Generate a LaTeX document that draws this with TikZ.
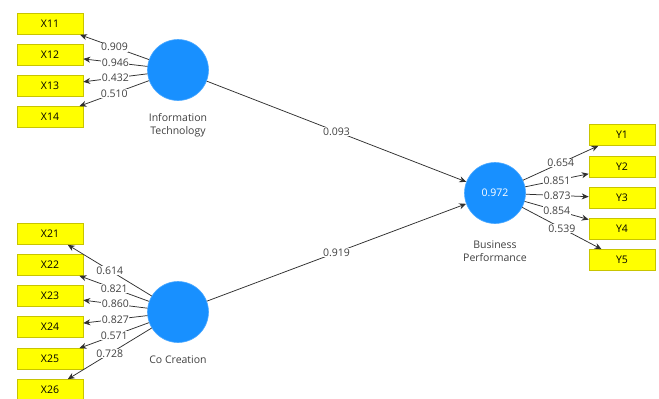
\documentclass[tikz,border=0pt]{standalone}
\usepackage{fontspec}
\setmainfont{Open Sans}
\usetikzlibrary{arrows.meta}
\definecolor{indfill}{HTML}{FFFF00}
\definecolor{inddraw}{HTML}{C8C400}
\definecolor{latfill}{HTML}{1890FF}
\definecolor{latdraw}{HTML}{4AA8FF}
\definecolor{txt}{HTML}{404040}
\definecolor{edge}{HTML}{303030}
\tikzset{
  indbox/.style={rectangle, draw=inddraw, fill=indfill, line width=0.6pt,
    minimum width=66pt, minimum height=21pt, inner sep=0pt,
    font=\fontsize{10.5}{12}\selectfont, text=black},
  latent/.style={circle, draw=latdraw, fill=latfill, line width=0.6pt,
    minimum size=61pt, inner sep=0pt, font=\fontsize{10.5}{12}\selectfont, text=white},
  latlabel/.style={align=center, font=\fontsize{10.5}{13.5}\selectfont, text=txt},
  link/.style={draw=edge, line width=0.75pt, -{Stealth[length=7pt,width=6pt]}},
  coef/.style={midway, fill=white, inner sep=0.5pt, font=\fontsize{10.5}{12}\selectfont, text=txt}
}
\begin{document}
\begin{tikzpicture}[x=1pt,y=-1pt]
\useasboundingbox (0,0) rectangle (659,399);
\fill[white] (0,0) rectangle (659,399);

% latent variables
\node[latent] (IT) at (178,70) {};
\node[latent] (CC) at (178,312) {};
\node[latent] (BP) at (495,193) {0.972};
\node[latlabel] at (178,125) {Information\\Technology};
\node[latlabel] at (178,360) {Co Creation};
\node[latlabel] at (495,251) {Business\\Performance};

% indicators of Information Technology
\node[indbox] (X11) at (50,24) {X11};
\node[indbox] (X12) at (50,55) {X12};
\node[indbox] (X13) at (50,86) {X13};
\node[indbox] (X14) at (50,117) {X14};

% indicators of Co Creation
\node[indbox] (X21) at (50,234) {X21};
\node[indbox] (X22) at (50,265) {X22};
\node[indbox] (X23) at (50,296) {X23};
\node[indbox] (X24) at (50,327) {X24};
\node[indbox] (X25) at (50,359) {X25};
\node[indbox] (X26) at (50,390) {X26};

% indicators of Business Performance
\node[indbox] (Y1) at (622,135) {Y1};
\node[indbox] (Y2) at (622,167) {Y2};
\node[indbox] (Y3) at (622,198) {Y3};
\node[indbox] (Y4) at (622,229) {Y4};
\node[indbox] (Y5) at (622,260) {Y5};

% outer loadings
\path[link] (IT) -- node[coef]{0.909} (X11);
\path[link] (IT) -- node[coef]{0.946} (X12);
\path[link] (IT) -- node[coef]{0.432} (X13);
\path[link] (IT) -- node[coef]{0.510} (X14);

\path[link] (CC) -- node[coef]{0.614} (X21);
\path[link] (CC) -- node[coef]{0.821} (X22);
\path[link] (CC) -- node[coef]{0.860} (X23);
\path[link] (CC) -- node[coef]{0.827} (X24);
\path[link] (CC) -- node[coef]{0.571} (X25);
\path[link] (CC) -- node[coef]{0.728} (X26);

\path[link] (BP) -- node[coef]{0.654} (Y1);
\path[link] (BP) -- node[coef]{0.851} (Y2);
\path[link] (BP) -- node[coef]{0.873} (Y3);
\path[link] (BP) -- node[coef]{0.854} (Y4);
\path[link] (BP) -- node[coef]{0.539} (Y5);

% path coefficients
\path[link] (IT) -- node[coef]{0.093} (BP);
\path[link] (CC) -- node[coef]{0.919} (BP);
\end{tikzpicture}
\end{document}
